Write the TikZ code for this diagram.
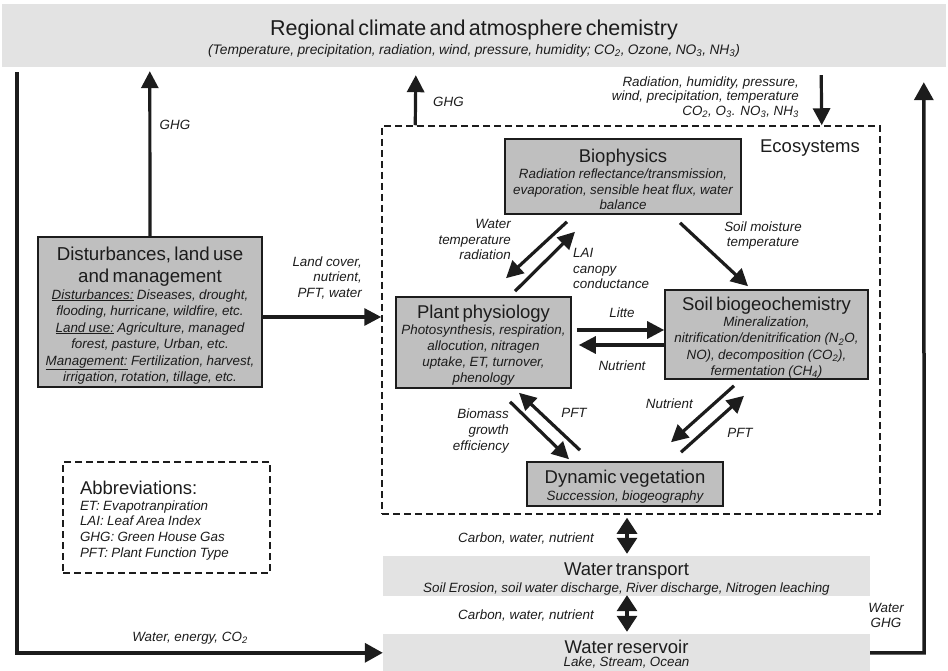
\documentclass[tikz,border=0pt]{standalone}
\usepackage{fontspec}
\setmainfont{Liberation Sans}
\usetikzlibrary{arrows.meta,calc}
\newcommand\ttlsize{\fontsize{18.5}{22.5}\selectfont}
\newcommand\smlsize{\fontsize{13.4}{15.7}\selectfont}
\newcommand\lift[1]{\rule{0pt}{#1}}
\definecolor{boxgray}{HTML}{BFBFBF}
\definecolor{bandgray}{HTML}{E3E3E3}
\definecolor{ink}{HTML}{1C1C1C}
\begin{document}
\begin{tikzpicture}[x=1pt,y=-1pt,
 every node/.style={text=ink, inner sep=0pt},
 gbox/.style={draw=ink, line width=1.6pt, fill=boxgray, align=center},
 band/.style={fill=bandgray, align=center},
 dbox/.style={draw=ink, line width=1.5pt, dash pattern=on 7pt off 4pt},
 arr/.style={draw=ink, line width=3.2pt, -{Triangle[length=17pt,width=17pt]}},
 darr/.style={draw=ink, line width=3.2pt, {Triangle[length=16pt,width=20pt]}-{Triangle[length=16pt,width=20pt]}},
 bigloop/.style={draw=ink, line width=3.5pt, -{Triangle[length=18pt,width=19pt]}},
 lbl/.style={font=\smlsize\itshape, align=center},
 ]
\useasboundingbox (0,0) rectangle (948,671);

% top band
\node[band, minimum width=944pt, minimum height=63pt, text width=940pt] (top) at (474,35.5)
 {{\fontsize{21.5}{25}\selectfont\lift{21.5pt}Regional climate and atmosphere chemistry\par}
  {\fontsize{13.8}{19}\selectfont\itshape (Temperature, precipitation, radiation, wind, pressure, humidity; CO\textsubscript{2}, Ozone, NO\textsubscript{3}, NH\textsubscript{3})\par}};

% ecosystems dashed frame
\node[dbox, minimum width=498pt, minimum height=388pt] (eco) at (631,320) {};
\node[font=\ttlsize] (ecolbl) at (810,148) {Ecosystems};

% boxes
\node[gbox, minimum width=224pt, minimum height=150pt, text width=220pt] (dist) at (150,312)
 {{\fontsize{18.7}{22}\selectfont\lift{21pt}Disturbances, land use\\and management\par}
  {\fontsize{13.4}{16.5}\selectfont\itshape\underline{Disturbances:} Diseases, drought,\\flooding, hurricane, wildfire, etc.\\\underline{Land use:} Agriculture, managed\\forest, pasture, Urban, etc.\\\underline{Management:} Fertilization, harvest,\\irrigation, rotation, tillage, etc.\par}};

\node[gbox, minimum width=236pt, minimum height=75pt, text width=232pt] (bio) at (623,176.5)
 {{\ttlsize\lift{19.5pt}Biophysics\par}
  {\smlsize\itshape Radiation reflectance/transmission,\\evaporation, sensible heat flux, water\\balance\par}};

\node[gbox, minimum width=175pt, minimum height=91pt, text width=171pt] (plant) at (483.5,342.5)
 {{\ttlsize\lift{19.5pt}Plant physiology\par}
  {\fontsize{13.4}{16}\selectfont\itshape Photosynthesis, respiration,\\allocution, nitragen\\uptake, ET, turnover,\\phenology\par}};

\node[gbox, minimum width=203pt, minimum height=89pt, text width=199pt] (soil) at (766.5,334.5)
 {{\ttlsize\lift{19.5pt}Soil biogeochemistry\par}
  {\fontsize{13.4}{16.2}\selectfont\itshape Mineralization,\\nitrification/denitrification (N\textsubscript{2}O,\\NO), decomposition (CO\textsubscript{2}),\\fermentation (CH\textsubscript{4})\par}};

\node[gbox, minimum width=196pt, minimum height=44pt, text width=192pt] (dyn) at (625,484)
 {{\ttlsize\lift{18.5pt}Dynamic vegetation\par}
  {\fontsize{13.4}{17}\selectfont\itshape Succession, biogeography\par}};

\node[band, minimum width=487pt, minimum height=40pt, text width=480pt] (wt) at (626.5,576)
 {{\ttlsize\lift{19.5pt}Water transport\par}
  {\fontsize{13.4}{17}\selectfont\itshape Soil Erosion, soil water discharge, River discharge, Nitrogen leaching\par}};

\node[band, minimum width=487pt, minimum height=37pt, text width=480pt] (res) at (626.5,652.5)
 {{\ttlsize\lift{17pt}Water reservoir\par}
  {\fontsize{13.4}{13}\selectfont\itshape Lake, Stream, Ocean\par}};

\node[dbox, minimum width=207pt, minimum height=111pt, text width=173pt, align=left] (abbr) at (166.5,517.5)
 {{\ttlsize\lift{19.5pt}Abbreviations:\par}
  {\fontsize{13.4}{15.8}\selectfont\itshape ET: Evapotranpiration\\LAI: Leaf Area Index\\GHG: Green House Gas\\PFT: Plant Function Type\par}};

% outer loops
\coordinate (lstart) at ($(top.south west)+(15,5)$);
\draw[bigloop] (lstart) |- ($(res.north west)+(0,19)$);
\coordinate (rcorner) at ($(res.north east)+(54,19)$);
\coordinate (rtop) at ($(top.south west)+(922,15)$);
\draw[bigloop] ($(res.north east)+(0,19)$) -- (rcorner) -- (rtop);

% disturbances
\draw[arr] (dist.north) -- ($(top.south west)+(148,4)$);
\draw[arr] ($(dist.east)+(0,5)$) -- ($(eco.west)+(0,-3)$);

% ecosystems <-> atmosphere
\draw[arr] ($(eco.north west)+(34,0)$) -- ($(top.south west)+(414,8)$);
\draw[arr] ($(top.south east)+(-125,8)$) -- ($(eco.north east)+(-59,0)$);

% internal
\draw[arr] ($(bio.south)+(-56,7)$) -- ($(plant.north)+(22.5,-18)$);
\draw[arr] ($(plant.north)+(31.5,-5)$) -- ($(bio.south)+(-48,17)$);
\draw[arr] ($(bio.south)+(57,8)$) -- ($(soil.north)+(-18.5,-3)$);
\draw[arr] ($(plant.east)+(5,-12.5)$) -- ($(soil.west)+(0,-4.5)$);
\draw[arr] ($(soil.west)+(0,10.5)$) -- ($(plant.east)+(7,2.5)$);
\draw[arr] ($(plant.south)+(26.5,13)$) -- ($(dyn.north)+(-56,-2)$);
\draw[arr] ($(dyn.north)+(-45,-11)$) -- ($(plant.south)+(35.5,4)$);
\draw[arr] ($(soil.south)+(-32.5,6)$) -- ($(dyn.north)+(46,-19)$);
\draw[arr] ($(dyn.north)+(56,-9)$) -- ($(soil.south)+(-22.5,16)$);

% water exchange
\draw[darr] ($(eco.south)+(-4,3)$) -- ($(wt.north)+(0.5,-2)$);
\draw[darr] ($(wt.south)+(0.5,-1)$) -- ($(res.north)+(0.5,-2)$);

% labels
\node[lbl] (ghg1) at (175,125) {GHG};
\node[lbl, anchor=west] (ghg2) at (433,102) {GHG};
\node[lbl, anchor=east, align=right, font=\fontsize{13.4}{14.7}\selectfont\itshape] (rad) at (799,97)
 {Radiation, humidity, pressure,\\wind, precipitation, temperature\\CO\textsubscript{2}, O\textsubscript{3}. NO\textsubscript{3}, NH\textsubscript{3}};
\node[lbl, anchor=east, align=right] (lc) at (362,278) {Land cover,\\nutrient,\\PFT, water};
\node[lbl] (sm) at (763,235.5) {Soil moisture\\temperature};
\node[lbl, anchor=east, align=right] (wtr) at (511,239.5) {Water\\temperature\\radiation};
\node[lbl, anchor=west, align=left] (lai) at (573,268.5) {LAI\\canopy\\conductance};
\node[lbl] (litte) at (622,313) {Litte};
\node[lbl] (nut1) at (622,366) {Nutrient};
\node[lbl, anchor=east, align=right] (bge) at (509,431) {Biomass\\growth\\efficiency};
\node[lbl] (pft1) at (574,413) {PFT};
\node[lbl, anchor=east] (nut2) at (693,404) {Nutrient};
\node[lbl] (pft2) at (740,433) {PFT};
\node[lbl, anchor=east] (cwn1) at (594,538) {Carbon, water, nutrient};
\node[lbl, anchor=east] (cwn2) at (594,615) {Carbon, water, nutrient};
\node[lbl] (wghg) at (886,615.5) {Water\\GHG};
\node[lbl] (wec) at (190,638) {Water, energy, CO\textsubscript{2}};
\end{tikzpicture}
\end{document}
